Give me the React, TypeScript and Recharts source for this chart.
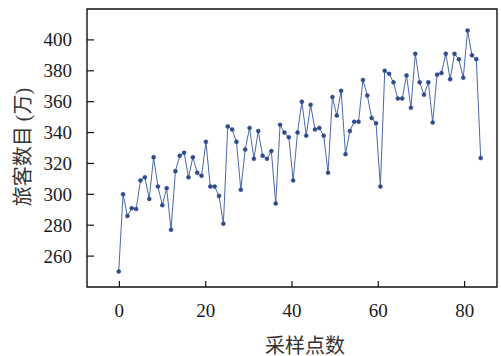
import React from 'react';
import { LineChart, Line, XAxis, YAxis, ReferenceArea } from 'recharts';

const sampleIndex: number[] = [
  0, 1, 2, 3, 4, 5, 6, 7, 8, 9, 10, 11, 12, 13, 14, 15, 16, 17, 18, 19,
  20, 21, 22, 23, 24, 25, 26, 27, 28, 29, 30, 31, 32, 33, 34, 35, 36, 37, 38, 39,
  40, 41, 42, 43, 44, 45, 46, 47, 48, 49, 50, 51, 52, 53, 54, 55, 56, 57, 58, 59,
  60, 61, 62, 63, 64, 65, 66, 67, 68, 69, 70, 71, 72, 73, 74, 75, 76, 77, 78, 79,
  80, 81, 82, 83,
];

const passengers: number[] = [
  250, 300, 286, 291, 290.5, 309, 311, 297, 324, 305,
  293, 304, 277, 315, 325, 327, 311, 324, 314, 312,
  334, 305, 305, 299, 281, 344, 342, 334, 303, 329,
  343, 323, 341, 325, 323, 328, 294, 345, 340, 337,
  309, 340, 360, 338, 358, 342, 343, 338, 314, 363,
  351, 367, 326, 341, 347, 347, 374, 364, 349.5, 346,
  305, 380, 378, 372.5, 362, 362, 377, 356, 391, 372.5,
  364.5, 372.5, 346.5, 377.5, 378.5, 391, 374.5, 391, 387.5, 375.5,
  406, 390, 387.5, 323.5,
];

const xTicks: number[] = [0, 20, 40, 60, 80];
const yTicks: number[] = [260, 280, 300, 320, 340, 360, 380, 400];
const xDomain: [number, number] = [-7.5, 87.5];
const yDomain: [number, number] = [240, 420];
const xTitle = '采样点数';
const yTitle = '旅客数目 (万)';

const data = sampleIndex.map((i, k) => ({ i, v: passengers[k] }));

const NUM_FONT = "'Liberation Serif', 'Times New Roman', serif";
const CJK_FONT = "'Liberation Serif', 'Noto Sans CJK SC', serif";
const AXIS_COLOR = '#111';

const YTick = (props: any) => {
  const { x, y, payload } = props;
  return (
    <g>
      <line x1={x} x2={x + 7} y1={y} y2={y} stroke={AXIS_COLOR} strokeWidth={1.2} />
      <text x={x - 15} y={y + 6.5} textAnchor="end" fontFamily={NUM_FONT} fontSize={19} fill="#1a1a1a">
        {payload.value}
      </text>
    </g>
  );
};

const XTick = (props: any) => {
  const { x, y, payload } = props;
  return (
    <g>
      <line x1={x} x2={x} y1={y} y2={y - 6} stroke={AXIS_COLOR} strokeWidth={1.2} />
      <text x={x} y={y + 30} textAnchor="middle" fontFamily={NUM_FONT} fontSize={19} fill="#1a1a1a">
        {payload.value}
      </text>
    </g>
  );
};

export default function App() {
  return (
    <div style={{ position: 'absolute', left: 0, top: 0, width: 501, height: 356, background: '#fff' }}>
      <LineChart width={501} height={356} data={data} margin={{ top: 9, right: 4, left: 0, bottom: 0 }}>
        <XAxis
          xAxisId="ticks"
          dataKey="i"
          type="number"
          domain={xDomain}
          ticks={xTicks}
          allowDataOverflow
          height={69}
          tickSize={0}
          tickMargin={0}
          tickLine={false}
          axisLine={false}
          tick={<XTick />}
          interval={0}
        />
        <XAxis
          xAxisId="data"
          dataKey="i"
          type="number"
          domain={[-7.27, 86.74]}
          allowDataOverflow
          height={0}
          hide
        />
        <YAxis
          yAxisId="left"
          type="number"
          domain={yDomain}
          ticks={yTicks}
          allowDataOverflow
          width={87}
          tickSize={0}
          tickMargin={0}
          tickLine={false}
          axisLine={false}
          tick={<YTick />}
          interval={0}
        />
        <ReferenceArea
          xAxisId="ticks"
          yAxisId="left"
          x1={xDomain[0]}
          x2={xDomain[1]}
          y1={yDomain[0]}
          y2={yDomain[1]}
          fill="none"
          fillOpacity={0}
          stroke={AXIS_COLOR}
          strokeWidth={1.4}
          ifOverflow="visible"
        />
        <Line
          xAxisId="ticks"
          yAxisId="left"
          dataKey="v"
          stroke="none"
          dot={false}
          activeDot={false}
          isAnimationActive={false}
          legendType="none"
        />
        <Line
          xAxisId="data"
          yAxisId="left"
          dataKey="v"
          type="linear"
          stroke="#4a68a8"
          strokeWidth={1}
          dot={{ r: 2, fill: '#2c4a8c', stroke: '#2c4a8c', strokeWidth: 0.5 }}
          isAnimationActive={false}
        />
      </LineChart>
      <svg width={501} height={356} style={{ position: 'absolute', left: 0, top: 0, pointerEvents: 'none' }}>
        <text
          x={305}
          y={346}
          textAnchor="middle"
          dominantBaseline="central"
          fontFamily={CJK_FONT}
          fontSize={20}
          fill="#333"
        >
          {xTitle}
        </text>
        <text
          x={23}
          y={147}
          textAnchor="middle"
          dominantBaseline="central"
          fontFamily={CJK_FONT}
          fontSize={20}
          fill="#333"
          transform="rotate(-90 23 147)"
        >
          {yTitle}
        </text>
      </svg>
    </div>
  );
}
